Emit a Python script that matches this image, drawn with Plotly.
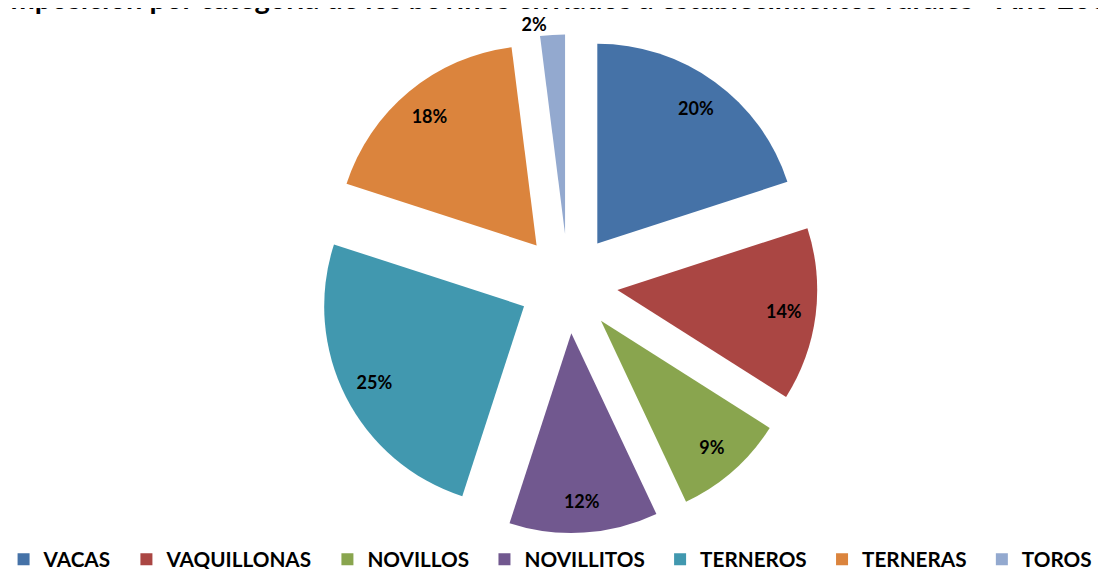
import plotly.graph_objects as go

categories = ["VACAS", "VAQUILLONAS", "NOVILLOS", "NOVILLITOS", "TERNEROS", "TERNERAS", "TOROS"]
values = [20, 14, 9, 12, 25, 18, 2]
colors = ["#4572A7", "#AA4643", "#89A54E", "#71588F", "#4198AF", "#DB843D", "#93A9CF"]
title_text = "Composición por categoría de los bovinos enviados a establecimientos rurales - Año 2008"

# legend entries padded with an en space (except last) to widen spacing between items
legend_labels = [c + "\u2002" for c in categories[:-1]] + [categories[-1]]
pull = [0.248] * len(values)
domain = dict(x=[0.281, 0.732], y=[0.076, 0.955])

fig = go.Figure()

# coloured slices + legend
fig.add_trace(go.Pie(
    labels=legend_labels,
    values=values,
    sort=False,
    direction="clockwise",
    rotation=0,
    pull=pull,
    marker=dict(colors=colors, line=dict(width=0)),
    textinfo="none",
    domain=domain,
    hovertemplate="%{label}: %{percent:.0%}<extra></extra>",
))

# transparent overlay ring used only to place percentage labels toward the outer edge
text_pos = ["inside"] * (len(values) - 1) + ["outside"]
fig.add_trace(go.Pie(
    labels=legend_labels,
    values=values,
    sort=False,
    direction="clockwise",
    rotation=0,
    pull=pull,
    hole=0.68,
    marker=dict(colors=["rgba(0,0,0,0)"] * len(values), line=dict(width=0)),
    texttemplate="%{percent:.0%}",
    textposition=text_pos,
    insidetextorientation="horizontal",
    textfont=dict(family="Lato", size=18, color="black", weight="bold"),
    domain=domain,
    showlegend=False,
    hoverinfo="skip",
))

fig.update_layout(
    width=1106, height=569,
    margin=dict(l=0, r=0, t=0, b=0, autoexpand=False),
    paper_bgcolor="white",
    plot_bgcolor="white",
    uniformtext=dict(minsize=18, mode="show"),
    annotations=[dict(text="<b>" + title_text + "</b>", x=0.5, xref="paper", xanchor="center",
                      y=1.0, yref="paper", yanchor="middle", yshift=11, xshift=-11, showarrow=False,
                      font=dict(family="Lato", size=29, color="black"))],
    showlegend=True,
    legend=dict(orientation="h", x=-0.004, xanchor="left", y=-0.004, yanchor="bottom",
                font=dict(family="Lato", size=20.7, color="black", weight="bold"),
                itemwidth=30, traceorder="normal"),
)

fig.write_html("out.html")
